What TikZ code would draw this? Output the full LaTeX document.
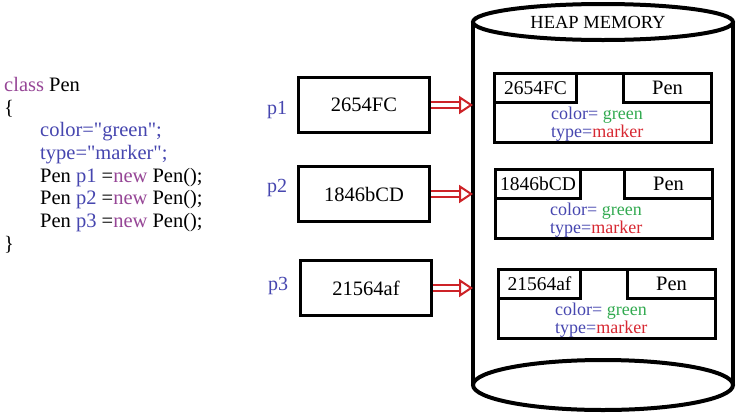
\documentclass[tikz,border=0pt]{standalone}
\usepackage{fontspec}
\setmainfont{Liberation Serif}
\usetikzlibrary{arrows.meta}
\usetikzlibrary{positioning}
\definecolor{kwpurple}{RGB}{150,70,150}
\definecolor{idblue}{RGB}{70,70,175}
\definecolor{valgreen}{RGB}{50,170,80}
\definecolor{valred}{RGB}{215,40,50}
\definecolor{refred}{RGB}{205,35,40}
\newcommand{\fsize}[2]{\fontsize{#1}{#2}\selectfont}
\newcommand{\kw}[1]{\textcolor{kwpurple}{#1}}
\newcommand{\ident}[1]{\textcolor{idblue}{#1}}
\newcommand{\qt}{\textquotedbl}
\tikzset{
  codetext/.style={inner sep=0pt, align=left, font=\fsize{20.5}{22.7}},
  plabel/.style={text=idblue, inner sep=0pt, font=\fsize{20}{22}},
  refbox/.style={draw, line width=3pt, minimum width=131pt, minimum height=55pt, inner sep=0pt, font=\fsize{20.5}{22}},
  refarrow/.style={draw=refred, double=white, double distance=4pt, line width=2pt,
    -{Triangle[open, length=14pt, width=18pt, line width=2pt]}},
  objbox/.style={draw, line width=3pt, minimum width=217pt, minimum height=69pt, inner sep=0pt},
  addrbox/.style={draw, line width=3pt, minimum width=82pt, minimum height=29pt, inner sep=0pt, font=\fsize{19.5}{22}},
  classbox/.style={draw, line width=3pt, minimum width=88pt, minimum height=29pt, inner sep=0pt, font=\fsize{20.5}{22}},
  fieldtext/.style={inner sep=0pt, align=left, font=\fsize{18}{18}}
}
\begin{document}
\begin{tikzpicture}[x=1pt, y=-1pt]
	\useasboundingbox (0,0) rectangle (737,418);
	% class code
	\node[codetext, anchor=north west] (code) at (4,77) {%
		\kw{class} Pen\\
		\{\\
		\hspace*{36pt}\ident{color=\qt green\qt;}\\
		\hspace*{36pt}\ident{type=\qt marker\qt;}\\
		\hspace*{36pt}Pen \ident{p1} =\kw{new} Pen();\\
		\hspace*{36pt}Pen \ident{p2} =\kw{new} Pen();\\
		\hspace*{36pt}Pen \ident{p3} =\kw{new} Pen();\\
		\}};

	% heap cylinder
	\coordinate (wall) at (473,0);
	\draw[line width=4pt] (473,22) -- (473,385);
	\draw[line width=4pt] (733,22) -- (733,385);
	\draw[line width=4pt, fill=white] (603,22) ellipse [x radius=130pt, y radius=18pt];
	\draw[line width=4pt, fill=white] (603,385) ellipse [x radius=130pt, y radius=25pt];
	\node[font=\fsize{18.5}{20}] (heap) at (598,22) {HEAP MEMORY};

	% references
	\node[refbox] (box1) at (364,105) {2654FC};
	\node[refbox] (box2) at (364,194) {1846bCD};
	\node[refbox] (box3) at (366,288) {21564af};
	\node[plabel] (p1) at (277,110) {p1};
	\node[plabel] (p2) at (277,188) {p2};
	\node[plabel] (p3) at (278,286) {p3};

	% objects in the heap
	\node[objbox] (obj1) at (603,108) {};
	\node[addrbox, anchor=north west] (addr1) at (obj1.north west) {2654FC};
	\node[classbox, anchor=north east] (cls1) at (obj1.north east) {Pen};
	\node[fieldtext, anchor=west] (f1) at (551,124) {\ident{color=} \textcolor{valgreen}{green}\\\ident{type=}\textcolor{valred}{marker}};

	\node[objbox] (obj2) at (604,204) {};
	\node[addrbox, minimum width=85pt, anchor=north west] (addr2) at (obj2.north west) {1846bCD};
	\node[classbox, anchor=north east] (cls2) at (obj2.north east) {Pen};
	\node[fieldtext, anchor=west] (f2) at (550,220) {\ident{color=} \textcolor{valgreen}{green}\\\ident{type=}\textcolor{valred}{marker}};

	\node[objbox] (obj3) at (607,304) {};
	\node[addrbox, anchor=north west] (addr3) at (obj3.north west) {21564af};
	\node[classbox, anchor=north east] (cls3) at (obj3.north east) {Pen};
	\node[fieldtext, anchor=west] (f3) at (555,320) {\ident{color=} \textcolor{valgreen}{green}\\\ident{type=}\textcolor{valred}{marker}};

	% arrows into the heap
	\draw[refarrow] (box1.east) -- (box1.east -| wall);
	\draw[refarrow] (box2.east) -- (box2.east -| wall);
	\draw[refarrow] (box3.east) -- (box3.east -| wall);
\end{tikzpicture}
\end{document}
